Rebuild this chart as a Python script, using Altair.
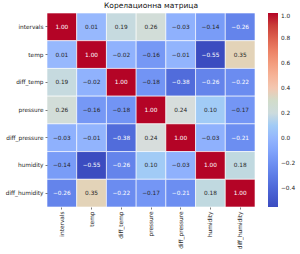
import altair as alt
import pandas as pd

variables = ["intervals", "temp", "diff_temp", "pressure",
             "diff_pressure", "humidity", "diff_humidity"]

corr_rows = [
    [1.00, 0.01, 0.19, 0.26, -0.03, -0.14, -0.26],
    [0.01, 1.00, -0.02, -0.16, -0.01, -0.55, 0.35],
    [0.19, -0.02, 1.00, -0.18, -0.38, -0.26, -0.22],
    [0.26, -0.16, -0.18, 1.00, 0.24, 0.10, -0.17],
    [-0.03, -0.01, -0.38, 0.24, 1.00, -0.03, -0.21],
    [-0.14, -0.55, -0.26, 0.10, -0.03, 1.00, 0.18],
    [-0.26, 0.35, -0.22, -0.17, -0.21, 0.18, 1.00],
]

records = []
for i, row_name in enumerate(variables):
    for j, col_name in enumerate(variables):
        records.append({"row": row_name, "col": col_name, "value": corr_rows[i][j]})
df = pd.DataFrame(records)

# coolwarm-like stops spread evenly across the value range
coolwarm = ["#3b4cc0", "#4f69d9", "#6788ee", "#84a7fc", "#a3c2fe", "#dcdddd",
            "#f2cbb7", "#f7ac8e", "#ee8468", "#d65244", "#b40426"]
vmin, vmax = -0.55, 1.0
stops = [vmin + (vmax - vmin) * k / (len(coolwarm) - 1) for k in range(len(coolwarm))]

font = "DejaVu Sans"
fs = 5.8

base = alt.Chart(df).encode(
    x=alt.X("col:N", sort=variables, title=None,
            axis=alt.Axis(labelAngle=270, labelAlign="right", labelBaseline="middle",
                          labelFontSize=fs, labelFont=font, labelColor="#222",
                          tickSize=2, tickColor="#222", tickWidth=0.6,
                          domain=False, labelPadding=2)),
    y=alt.Y("row:N", sort=variables, title=None,
            axis=alt.Axis(labelFontSize=fs, labelFont=font, labelColor="#222",
                          tickSize=2, tickColor="#222", tickWidth=0.6,
                          domain=False, labelPadding=2)),
)

cells = base.mark_rect(stroke="white", strokeWidth=0.6).encode(
    color=alt.Color("value:Q",
                    scale=alt.Scale(domain=stops, range=coolwarm, clamp=True),
                    legend=alt.Legend(title=None, orient="right", offset=13,
                                      gradientLength=194, gradientThickness=10,
                                      values=[-0.4, -0.2, 0.0, 0.2, 0.4, 0.6, 0.8, 1.0],
                                      labelExpr="replace(format(datum.value, '.1f'), '-', '\u2212')",
                                      labelFontSize=fs, labelFont=font, labelColor="#222",
                                      labelOffset=3, gradientStrokeWidth=0))
)

labels = base.mark_text(fontSize=fs, font=font).encode(
    text=alt.Text("value:Q", format=".2f"),
    color=alt.condition("datum.value < -0.2 || datum.value > 0.7",
                        alt.value("white"), alt.value("#262626")),
)

chart = (cells + labels).properties(
    width=208, height=194,
    title=alt.TitleParams("Корелационна матрица", fontSize=7.5, font=font,
                          fontWeight="normal", color="#111", offset=3),
    autosize=alt.AutoSizeParams(type="none"),
    padding={"left": 47, "top": 13, "right": 45, "bottom": 47},
).configure_view(stroke=None).configure_scale(bandPaddingInner=0, bandPaddingOuter=0)

chart.save("out.html", embed_options={"renderer": "svg", "actions": False})
